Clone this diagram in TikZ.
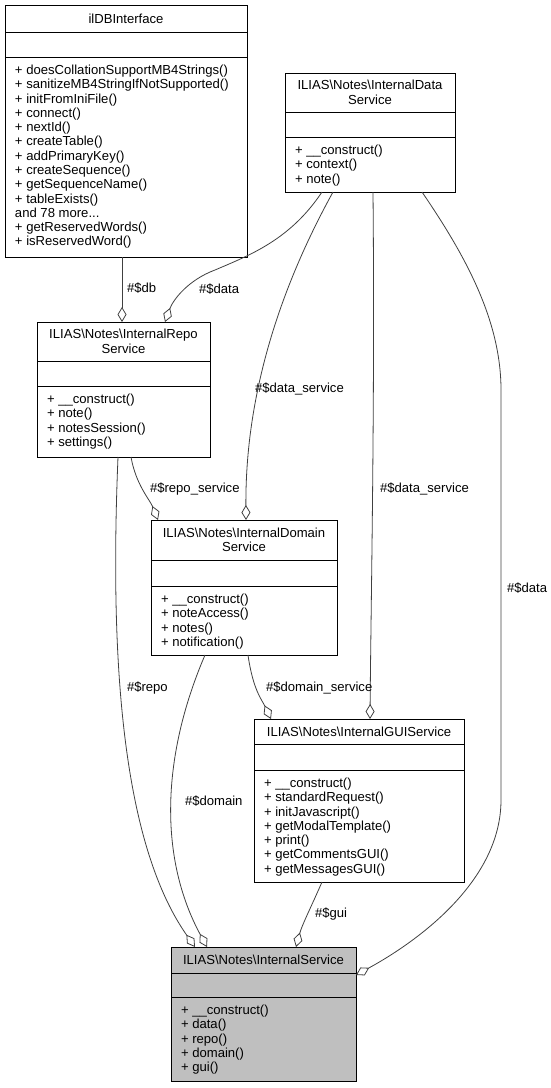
\documentclass[tikz,border=0pt]{standalone}
\usepackage{fontspec}
\setmainfont{Liberation Sans}
\usetikzlibrary{arrows.meta}
\definecolor{edgegray}{RGB}{64,64,64}
\definecolor{svcfill}{RGB}{191,191,191}
\begin{document}
\begin{tikzpicture}[x=1pt,y=-1pt,
  every node/.style={inner sep=0pt, outer sep=0pt},
  txt/.style={font=\fontsize{13.1}{14.27}\selectfont, text=black},
  ttl/.style={txt, anchor=north, align=center},
  mth/.style={txt, anchor=north west, align=left},
  lbl/.style={txt, anchor=base west},
  classbox/.style={draw=black, line width=0.9pt, anchor=north west, fill=white},
  divider/.style={draw=black, line width=0.9pt},
  rel/.style={draw=edgegray, line width=0.8pt, -{Diamond[open, length=15pt, width=9pt, line width=0.8pt]}}
]
\useasboundingbox (0,0) rectangle (551,1088);

% ---------- ilDBInterface
\node[classbox, minimum width=242pt, minimum height=252pt] (db) at (5,5) {};
\draw[divider] (5,32) -- (247,32);
\draw[divider] (5,57) -- (247,57);
\node[txt, anchor=base] (dbT) at (126,23.1) {ilDBInterface};
\node[mth] (dbM) at (15,64.6) {\strut+ doesCollationSupportMB4Strings()\\
+ sanitizeMB4StringIfNotSupported()\\
+ initFromIniFile()\\
+ connect()\\
+ nextId()\\
+ createTable()\\
+ addPrimaryKey()\\
+ createSequence()\\
+ getSequenceName()\\
+ tableExists()\\
and 78 more...\\
+ getReservedWords()\\
+ isReservedWord()};

% ---------- InternalDataService
\node[classbox, minimum width=170pt, minimum height=119pt] (data) at (285,73) {};
\draw[divider] (285,112) -- (455,112);
\draw[divider] (285,137) -- (455,137);
\node[ttl] (dataT) at (370,80) {\strut ILIAS\textbackslash Notes\textbackslash InternalData\\Service};
\node[mth] (dataM) at (295,144.6) {\strut+ \_\_construct()\\
+ context()\\
+ note()};

% ---------- InternalRepoService
\node[classbox, minimum width=173pt, minimum height=135pt] (repo) at (37,322) {};
\draw[divider] (37,361) -- (210,361);
\draw[divider] (37,386) -- (210,386);
\node[ttl] (repoT) at (123.5,329) {\strut ILIAS\textbackslash Notes\textbackslash InternalRepo\\Service};
\node[mth] (repoM) at (47,393.6) {\strut+ \_\_construct()\\
+ note()\\
+ notesSession()\\
+ settings()};

% ---------- InternalDomainService
\node[classbox, minimum width=186pt, minimum height=135pt] (domain) at (151,520) {};
\draw[divider] (151,560) -- (337,560);
\draw[divider] (151,586) -- (337,586);
\node[ttl] (domainT) at (244,527.5) {\strut ILIAS\textbackslash Notes\textbackslash InternalDomain\\Service};
\node[mth] (domainM) at (161,593.6) {\strut+ \_\_construct()\\
+ noteAccess()\\
+ notes()\\
+ notification()};

% ---------- InternalGUIService
\node[classbox, minimum width=210pt, minimum height=163pt] (gui) at (254,719) {};
\draw[divider] (254,744) -- (464,744);
\draw[divider] (254,770) -- (464,770);
\node[txt, anchor=base] (guiT) at (359,736.1) {ILIAS\textbackslash Notes\textbackslash InternalGUIService};
\node[mth] (guiM) at (264,777.6) {\strut+ \_\_construct()\\
+ standardRequest()\\
+ initJavascript()\\
+ getModalTemplate()\\
+ print()\\
+ getCommentsGUI()\\
+ getMessagesGUI()};

% ---------- InternalService
\node[classbox, fill=svcfill, minimum width=185pt, minimum height=134pt] (svc) at (171,947) {};
\draw[divider] (171,973) -- (356,973);
\draw[divider] (171,997) -- (356,997);
\node[txt, anchor=base] (svcT) at (263.5,964.6) {ILIAS\textbackslash Notes\textbackslash InternalService};
\node[mth] (svcM) at (181,1004.6) {\strut+ \_\_construct()\\
+ data()\\
+ repo()\\
+ domain()\\
+ gui()};

% ---------- relations
\draw[rel] ([xshift=117pt]db.south west) -- ([xshift=85pt]repo.north west);
\node[lbl] (lDb) at (127,292.6) {\#\$db};

\draw[rel] ([xshift=37pt]data.south west) .. controls (290,240) and (250,255) .. (215,270)
  .. controls (188,280) and (173,300) .. ([xshift=128pt]repo.north west);
\node[lbl] (lData1) at (199,293.6) {\#\$data};

\draw[rel] ([xshift=48pt]data.south west) .. controls (290,270) and (245,380) .. ([xshift=95pt]domain.north west);
\node[lbl] (lDs1) at (255,392.6) {\#\$data\_service};

\draw[rel] ([xshift=88pt]data.south west) .. controls (375,400) and (371,600) .. ([xshift=116pt]gui.north west);
\node[lbl] (lDs2) at (380,492.6) {\#\$data\_service};

\draw[rel] ([xshift=137pt]data.south west) .. controls (465,255) and (501,320) .. (501,390)
  -- (501,800) .. controls (501,880) and (420,940) .. ([yshift=-28pt]svc.north east);
\node[lbl] (lData2) at (507,592.6) {\#\$data};

\draw[rel] ([xshift=94pt]repo.south west) .. controls (136,485) and (150,500) .. ([xshift=7pt]domain.north west);
\node[lbl] (lRs) at (150,492.6) {\#\$repo\_service};

\draw[rel] ([xshift=81pt]repo.south west) .. controls (110,650) and (120,840) .. ([xshift=24pt]svc.north west);
\node[lbl] (lRepo) at (127,691.6) {\#\$repo};

\draw[rel] ([xshift=54pt]domain.south west) .. controls (160,760) and (160,860) .. ([xshift=36pt]svc.north west);
\node[lbl] (lDomain) at (185,805.6) {\#\$domain};

\draw[rel] ([xshift=97pt]domain.south west) .. controls (253,690) and (262,700) .. ([xshift=17pt]gui.north west);
\node[lbl] (lDomS) at (266,691.6) {\#\$domain\_service};

\draw[rel] ([xshift=68pt]gui.south west) .. controls (312,905) and (302,925) .. ([xshift=125pt]svc.north west);
\node[lbl] (lGui) at (315,917.6) {\#\$gui};
\end{tikzpicture}
\end{document}
